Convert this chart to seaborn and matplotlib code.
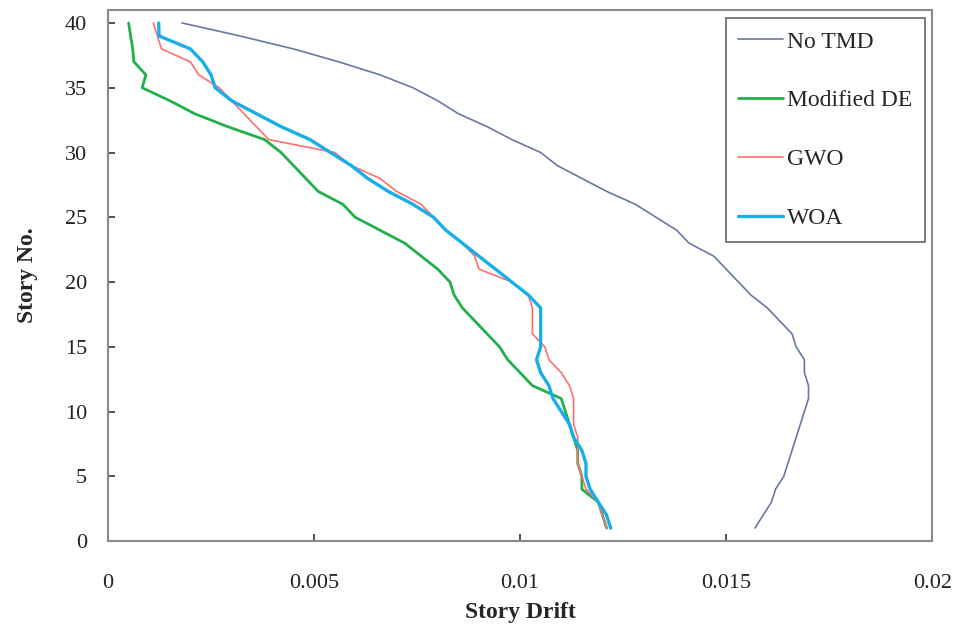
import numpy as np
import pandas as pd
import seaborn as sns
import matplotlib.pyplot as plt

# story numbers, top to bottom
stories = list(range(40, 0, -1))

no_tmd = [0.0018, 0.0032, 0.0045, 0.0056, 0.0066, 0.0074, 0.0080, 0.0085, 0.0092, 0.0098,
          0.0105, 0.0109, 0.0115, 0.0121, 0.0128, 0.0133, 0.0138, 0.0141, 0.0147, 0.0150,
          0.0153, 0.0156, 0.0160, 0.0163, 0.0166, 0.0167, 0.0169, 0.0169, 0.0170, 0.0170,
          0.0169, 0.0168, 0.0167, 0.0166, 0.0165, 0.0164, 0.0162, 0.0161, 0.0159, 0.0157]

modified_de = [0.0005, 0.00055, 0.0006, 0.00063, 0.00092, 0.00083, 0.0015, 0.0021, 0.0029, 0.0038,
               0.0042, 0.0045, 0.0048, 0.0051, 0.0057, 0.0060, 0.0066, 0.0072, 0.0076, 0.0080,
               0.0083, 0.0084, 0.0086, 0.0089, 0.0092, 0.0095, 0.0097, 0.0100, 0.0103, 0.0110,
               0.0111, 0.0112, 0.0113, 0.0114, 0.0114, 0.0115, 0.0115, 0.0119, 0.0120, 0.0121]

gwo = [0.0011, 0.0012, 0.0013, 0.0020, 0.0022, 0.0027, 0.0030, 0.0033, 0.0036, 0.0039,
       0.0055, 0.0059, 0.0066, 0.0070, 0.0076, 0.0079, 0.0082, 0.0086, 0.0089, 0.0090,
       0.0098, 0.0102, 0.0103, 0.0103, 0.0103, 0.0106, 0.0107, 0.0110, 0.0112, 0.0113,
       0.0113, 0.0113, 0.0114, 0.0114, 0.0114, 0.0115, 0.0116, 0.0119, 0.0120, 0.0121]

woa = [0.00123, 0.00124, 0.0020, 0.0023, 0.0025, 0.0026, 0.0030, 0.0036, 0.0042, 0.0049,
       0.0054, 0.0059, 0.0063, 0.0068, 0.0074, 0.0079, 0.0082, 0.0086, 0.0090, 0.0094,
       0.0098, 0.0102, 0.0105, 0.0105, 0.0105, 0.0105, 0.0104, 0.0105, 0.0107, 0.0108,
       0.0110, 0.0112, 0.0113, 0.0115, 0.0116, 0.0116, 0.0117, 0.0119, 0.0121, 0.0122]

names = ['No TMD', 'Modified DE', 'GWO', 'WOA']
colors = ['#6878a3', '#22b04b', '#ff6e6e', '#18aeea']
widths = [1.2, 2.0, 1.2, 2.4]

sns.set_style('white')
plt.rcParams['font.family'] = ['Liberation Serif', 'DejaVu Serif']

fig = plt.figure(figsize=(9.58, 6.28), dpi=100)
ax = fig.add_axes([0.1127, 0.1385, 0.8603, 0.8455])

for name, vals, c, lw in zip(names, [no_tmd, modified_de, gwo, woa], colors, widths):
    df = pd.DataFrame({'drift': vals, 'story': stories})
    sns.lineplot(data=df, x='drift', y='story', sort=False, orient='y', estimator=None,
                 color=c, linewidth=lw, label=name, ax=ax)

ax.set_xlim(0, 0.02)
ax.set_ylim(0, 41)
ax.set_xticks([0, 0.005, 0.01, 0.015, 0.02])
ax.set_xticklabels(['0', '0.005', '0.01', '0.015', '0.02'])
ax.set_yticks(range(0, 41, 5))
ax.tick_params(bottom=True, left=True, direction='in', length=5, width=1.2,
               colors='#333333', labelsize=16, labelcolor='#222222')
ax.tick_params(axis='x', pad=24)
ax.tick_params(axis='y', pad=15)
for s in ax.spines.values():
    s.set_color('#8a8a8a')
    s.set_linewidth(1.5)

ax.set_xlabel('Story Drift', fontsize=17, fontweight='bold', labelpad=6)
ax.set_ylabel('Story No.', fontsize=17, fontweight='bold', labelpad=19)

leg = ax.legend(loc='upper right', bbox_to_anchor=(0.9915, 0.985), borderaxespad=0,
                fontsize=17, labelspacing=1.58, handlelength=1.9, handletextpad=0.15,
                borderpad=0.55, fancybox=False, framealpha=1)
leg.get_frame().set_edgecolor('#666666')
leg.get_frame().set_linewidth(1.2)

fig.savefig('out.png', dpi=100)
